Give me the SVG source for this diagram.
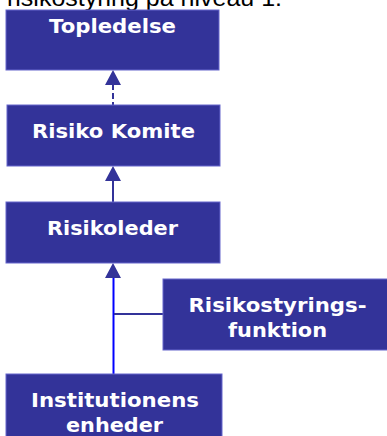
<svg xmlns="http://www.w3.org/2000/svg" width="387" height="436" viewBox="0 0 387 436">
<style>
.box{fill:#333399;stroke:#6666cc;stroke-width:1}
.lbl{font-family:"DejaVu Sans",Verdana,sans-serif;font-weight:bold;font-size:19px;fill:#ffffff;text-anchor:middle}
.title{font-family:"Liberation Sans",Arial,sans-serif;font-size:24px;fill:#000000}
.ln{stroke:#333399;stroke-width:2;fill:none}
.head{fill:#333399}
</style>
<rect width="387" height="436" fill="#ffffff"/>
<text class="title" x="7" y="6" textLength="275" lengthAdjust="spacingAndGlyphs">risikostyring på niveau 1:</text>
<g id="connectors">
<line class="ln" x1="113" y1="84" x2="113" y2="105" stroke-dasharray="6,3"/>
<polygon class="head" points="113,70 105,85 121,85"/>
<line class="ln" x1="113" y1="180" x2="113" y2="203"/>
<polygon class="head" points="113,166 105,181 121,181"/>
<line x1="113.5" y1="276" x2="113.5" y2="375" stroke="#0000ff" stroke-width="2"/>
<polygon class="head" points="113,263 105,278 121,278"/>
<line class="ln" x1="114" y1="314" x2="163" y2="314" stroke-width="1.5"/>
</g>
<g id="topledelse">
<rect class="box" x="6" y="10" width="213" height="60"/>
<text class="lbl" x="112.5" y="33" textLength="127" lengthAdjust="spacingAndGlyphs">Topledelse</text>
</g>
<g id="risiko-komite">
<rect class="box" x="7" y="105" width="213" height="61"/>
<text class="lbl" x="113.5" y="138" textLength="163" lengthAdjust="spacingAndGlyphs">Risiko Komite</text>
</g>
<g id="risikoleder">
<rect class="box" x="6" y="202" width="214" height="61"/>
<text class="lbl" x="112.5" y="235" textLength="131" lengthAdjust="spacingAndGlyphs">Risikoleder</text>
</g>
<g id="risikostyringsfunktion">
<rect class="box" x="163" y="279" width="226" height="71"/>
<text class="lbl" x="277.5" y="312" textLength="178" lengthAdjust="spacingAndGlyphs">Risikostyrings-</text>
<text class="lbl" x="277.5" y="337" textLength="99" lengthAdjust="spacingAndGlyphs">funktion</text>
</g>
<g id="institutionens-enheder">
<rect class="box" x="6" y="374" width="216" height="70"/>
<text class="lbl" x="115" y="407" textLength="168" lengthAdjust="spacingAndGlyphs">Institutionens</text>
<text class="lbl" x="114.5" y="432" textLength="97" lengthAdjust="spacingAndGlyphs">enheder</text>
</g>
</svg>
